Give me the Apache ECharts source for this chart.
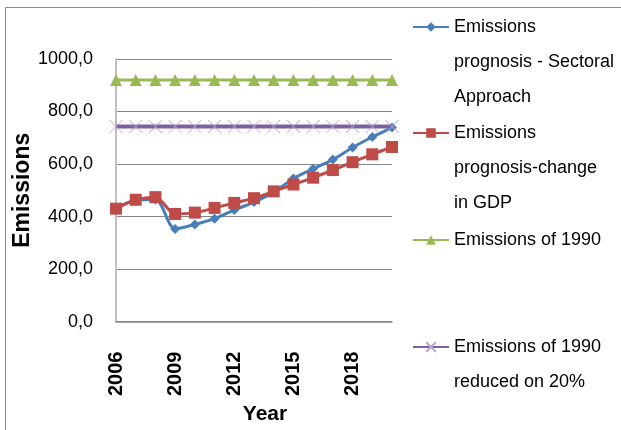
<!DOCTYPE html>
<html>
<head>
<meta charset="utf-8">
<script src="https://cdn.jsdelivr.net/npm/echarts@6/dist/echarts.min.js"></script>
<style>
  html, body { margin: 0; padding: 0; background: #fff; }
  #chart { width: 621px; height: 430px; }
</style>
</head>
<body>
<div id="chart"></div>
<script>
// Years on the category axis
const years = ['2006', '2007', '2008', '2009', '2010', '2011', '2012', '2013',
               '2014', '2015', '2016', '2017', '2018', '2019', '2020'];

// Emissions prognosis, sectoral approach
const sectoral = [432, 462, 465, 353, 370, 392, 425, 455, 493, 545, 582, 617, 663, 703, 739];

// Emissions prognosis driven by GDP change
const gdpChange = [430, 464, 474, 410, 415, 433, 452, 470, 496, 522, 548, 577, 607, 637, 665];

// Reference levels
const level1990 = years.map(() => 920);
const level1990Minus20 = years.map(() => 743);

// Y-axis tick values
const yTicks = [0, 200, 400, 600, 800, 1000];

const seriesNames = [
  'Emissions prognosis - Sectoral Approach',
  'Emissions prognosis-change in GDP',
  'Emissions of 1990',
  'Emissions of 1990 reduced on 20%'
];
// Wrapped legend text, one entry per series
const legendLines = [
  ['Emissions', 'prognosis - Sectoral', 'Approach'],
  ['Emissions', 'prognosis-change', 'in GDP'],
  ['Emissions of 1990'],
  ['Emissions of 1990', 'reduced on 20%']
];
// Vertical centre of each legend marker
const legendMarkerY = [27, 133, 240, 347];

const FONT = '"Liberation Sans", Arial, sans-serif';
const LINE_H = 35;

// Leading blank lines keep the marker level with the first text line
function legendFor(i) {
  const lines = legendLines[i];
  const pad = lines.length - 1;
  const text = '\n'.repeat(pad) + lines.join('\n');
  const total = lines.length + pad;
  return {
    data: [seriesNames[i]],
    orient: 'vertical',
    left: 412,
    top: legendMarkerY[i] - total * LINE_H / 2,
    padding: 0,
    itemWidth: 36,
    itemHeight: 12,
    selectedMode: false,
    formatter: () => text,
    textStyle: { fontFamily: FONT, fontSize: 18, color: '#000', lineHeight: LINE_H }
  };
}

const chart = echarts.init(document.getElementById('chart'), null, { renderer: 'canvas' });

chart.setOption({
  animation: false,
  backgroundColor: '#fff',
  graphic: [{
    type: 'rect',
    shape: { x: 5.5, y: 7.5, width: 700, height: 500 },
    style: { fill: 'none', stroke: '#8c8c8c', lineWidth: 1 },
    silent: true
  }],
  legend: [0, 1, 2, 3].map(legendFor),
  grid: { left: 116, right: 229, top: 59, bottom: 99 },
  xAxis: {
    type: 'category',
    data: years,
    boundaryGap: false,
    name: 'Year',
    nameLocation: 'middle',
    nameGap: 72,
    nameTextStyle: { fontFamily: FONT, fontSize: 21, fontWeight: 'bold', color: '#000', padding: [0, 0, 0, 22] },
    axisLine: { lineStyle: { color: '#868686', width: 1.5 } },
    axisTick: { show: false },
    axisLabel: {
      interval: 2,
      rotate: 90,
      margin: 30,
      fontFamily: FONT,
      fontWeight: 'bold',
      fontSize: 20,
      color: '#000'
    },
    splitLine: { show: false }
  },
  yAxis: {
    type: 'value',
    min: yTicks[0],
    max: yTicks[yTicks.length - 1],
    interval: yTicks[1] - yTicks[0],
    name: 'Emissions',
    nameLocation: 'middle',
    nameGap: 76,
    nameTextStyle: { fontFamily: FONT, fontSize: 23, fontWeight: 'bold', color: '#000' },
    axisLine: { show: true, lineStyle: { color: '#bfbfbf', width: 2 } },
    axisTick: { show: false },
    axisLabel: {
      margin: 23,
      fontFamily: FONT,
      fontSize: 18,
      color: '#000',
      formatter: v => v.toFixed(1).replace('.', ',')
    },
    splitLine: { lineStyle: { color: '#868686', width: 1 } }
  },
  series: [
    {
      name: seriesNames[0],
      type: 'line',
      data: sectoral,
      smooth: 0.3,
      symbol: 'diamond',
      symbolSize: 10,
      showAllSymbol: true,
      color: '#4a7ebb',
      lineStyle: { color: '#4a7ebb', width: 3 },
      itemStyle: { color: '#4a7ebb' },
      z: 2
    },
    {
      name: seriesNames[1],
      type: 'line',
      data: gdpChange,
      smooth: 0.3,
      symbol: 'rect',
      symbolSize: 12,
      showAllSymbol: true,
      color: '#be4b48',
      lineStyle: { color: '#be4b48', width: 3 },
      itemStyle: { color: '#be4b48' },
      z: 3
    },
    {
      name: seriesNames[2],
      type: 'line',
      data: level1990,
      symbol: 'triangle',
      symbolSize: 12,
      showAllSymbol: true,
      color: '#98b954',
      lineStyle: { color: '#98b954', width: 3 },
      itemStyle: { color: '#98b954' },
      z: 4
    },
    {
      name: seriesNames[3],
      type: 'line',
      data: level1990Minus20,
      symbol: 'path://M0,0L10,10M10,0L0,10',
      symbolSize: 13,
      showAllSymbol: true,
      color: '#7d60a0',
      lineStyle: { color: '#7d60a0', width: 4 },
      itemStyle: { color: '#7d60a0', borderColor: '#b6a8d2', borderWidth: 1 },
      z: 5
    }
  ]
});
</script>
</body>
</html>
